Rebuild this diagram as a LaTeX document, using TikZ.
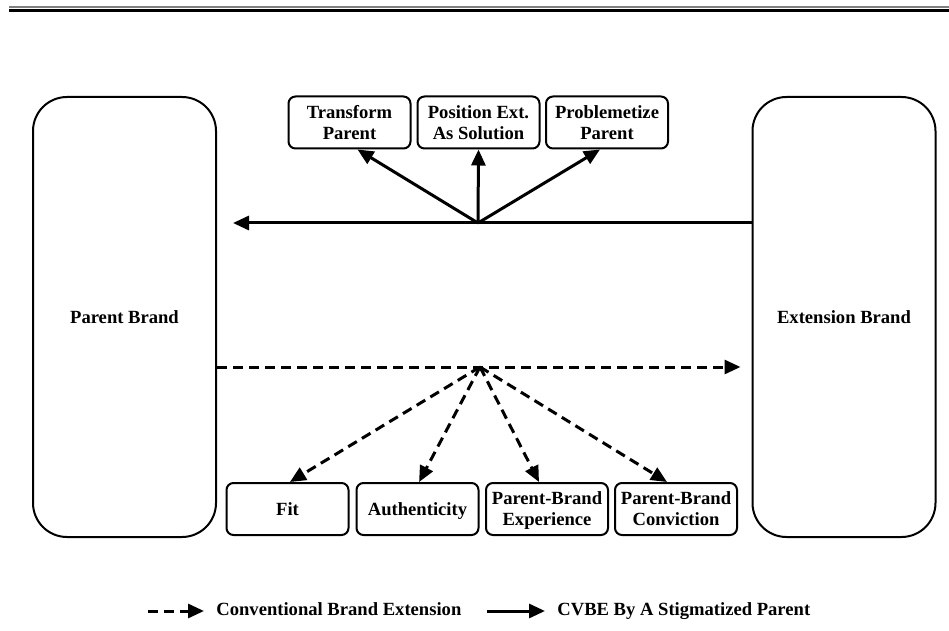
\documentclass[tikz,border=0pt]{standalone}
\usepackage{fontspec}
\setmainfont{Liberation Serif}
\usetikzlibrary{arrows.meta, positioning}
\tikzset{>={Triangle[length=8pt,width=7pt]}}
\tikzset{
  brand/.style={draw, line width=1pt, rounded corners=17pt, minimum width=91.5pt, minimum height=220pt, align=center},
  factor/.style={draw, line width=1pt, rounded corners=3.5pt, minimum width=61pt, minimum height=26pt, inner sep=0pt, text depth=0pt, align=center},
  cvbe/.style={->, line width=1.5pt},
  conv/.style={->, line width=1.5pt, dash pattern=on 5pt off 3pt}
}

\begin{document}
\begin{tikzpicture}[x=0.5pt, y=-0.5pt, font=\fontsize{9.3}{10.5}\selectfont\bfseries]

\useasboundingbox (0,0) rectangle (949,631);

% double rule on top
\draw[gray, line width=0.9pt] (9,7) -- (949,7);
\draw[line width=1.3pt] (9,10.5) -- (949,10.5);

\node[brand] (parent) at (124.5,317) {Parent Brand};
\node[brand] (ext) at (844,317) {Extension Brand};

\node[factor] (tp) at (349.5,122.5) {Transform\\Parent};
\node[factor] (pe) at (478.5,122.5) {Position Ext.\\As Solution};
\node[factor] (pp) at (607,122.5) {Problemetize\\Parent};

\node[factor] (fit) at (287.5,509) {Fit};
\node[factor] (auth) at (417.5,509) {Authenticity};
\node[factor] (exp) at (547,509) {Parent-Brand\\Experience};
\node[factor] (conv) at (676,509) {Parent-Brand\\Conviction};

\coordinate (jt) at (478,223);
\coordinate (jb) at (480,367);

\draw [cvbe, shorten >=8pt] (ext.west |- jt) -- (parent.east |- jt);
\draw [cvbe] (jt) -- ([xshift=4pt]tp.south);
\draw [cvbe] (jt) -- (pe.south);
\draw [cvbe] (jt) -- ([xshift=-3.5pt]pp.south);

\draw [conv, shorten >=5.5pt] (parent.east |- jb) -- (ext.west |- jb);
\draw [conv] (jb) -- ([xshift=1.2pt]fit.north);
\draw [conv] (jb) -- ([xshift=0.8pt]auth.north);
\draw [conv] (jb) -- ([xshift=-4pt]exp.north);
\draw [conv] (jb) -- ([xshift=-4.5pt]conv.north);

% legend
\coordinate (l1) at (148,611);
\coordinate (l2) at (487,611);
\node[anchor=base west, inner sep=0pt] (ltxt1) at (216,615.5) {Conventional Brand Extension};
\node[anchor=base west, inner sep=0pt] (ltxt2) at (557,615.5) {CVBE By A Stigmatized Parent};
\draw [conv, shorten >=6pt] (l1) -- (l1 -| ltxt1.west);
\draw [cvbe, shorten >=6pt] (l2) -- (l2 -| ltxt2.west);

\end{tikzpicture}
\end{document}
